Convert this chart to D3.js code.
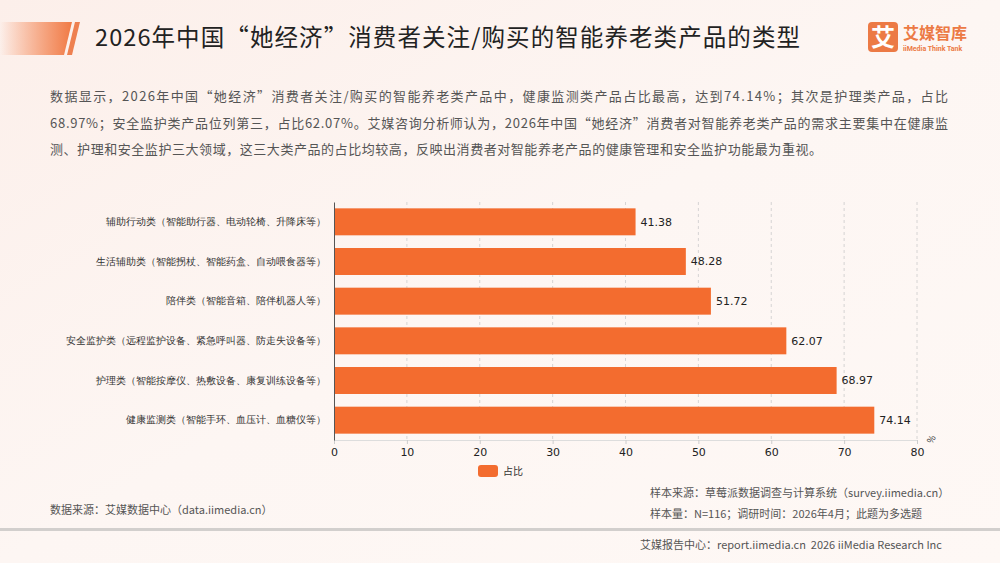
<!DOCTYPE html>
<html>
<head>
<meta charset="utf-8">
<script src="https://cdn.jsdelivr.net/npm/d3@7"></script>
<style>
  body { margin: 0; }
  svg { display: block; font-family: "Noto Sans CJK SC", "Noto Sans", sans-serif; }
</style>
</head>
<body>
<div id="chart"></div>
<script>
const categories = [
  '辅助行动类（智能助行器、电动轮椅、升降床等）',
  '生活辅助类（智能拐杖、智能药盒、自动喂食器等）',
  '陪伴类（智能音箱、陪伴机器人等）',
  '安全监护类（远程监护设备、紧急呼叫器、防走失设备等）',
  '护理类（智能按摩仪、热敷设备、康复训练设备等）',
  '健康监测类（智能手环、血压计、血糖仪等）'
];
const values = [41.38, 48.28, 51.72, 62.07, 68.97, 74.14];
const xTicks = [0, 10, 20, 30, 40, 50, 60, 70, 80];
const seriesName = '占比';

const title = '2026年中国“她经济”消费者关注/购买的智能养老类产品的类型';
const paragraph = [
  '数据显示，2026年中国“她经济”消费者关注/购买的智能养老类产品中，健康监测类产品占比最高，达到74.14%；其次是护理类产品，占比',
  '68.97%；安全监护类产品位列第三，占比62.07%。艾媒咨询分析师认为，2026年中国“她经济”消费者对智能养老类产品的需求主要集中在健康监',
  '测、护理和安全监护三大领域，这三大类产品的占比均较高，反映出消费者对智能养老产品的健康管理和安全监护功能最为重视。'
];
// line lengths
const paragraphWidths = [898, 898, 772];

const width = 1000, height = 563;
const orange = '#F36C2F';
const margin = { top: 202, left: 334, right: 87, bottom: 123 };

const svg = d3.select('#chart').append('svg')
  .attr('width', width).attr('height', height);

// background
const defs = svg.append('defs');
const bg = defs.append('linearGradient').attr('id', 'bg')
  .attr('x1', 0).attr('y1', 0).attr('x2', 1).attr('y2', 1);
bg.append('stop').attr('offset', 0).attr('stop-color', '#FCEFEA');
bg.append('stop').attr('offset', 0.5).attr('stop-color', '#FDF6F3');
bg.append('stop').attr('offset', 1).attr('stop-color', '#FEF8F5');
svg.append('rect').attr('width', width).attr('height', height).attr('fill', 'url(#bg)');

// title tag
const tag = defs.append('linearGradient').attr('id', 'tag');
tag.append('stop').attr('offset', 0).attr('stop-color', '#F36C2F').attr('stop-opacity', 0);
tag.append('stop').attr('offset', 1).attr('stop-color', '#F07A45');
svg.append('path').attr('d', 'M0,22 L72,22 L64,55 L0,55 Z').attr('fill', 'url(#tag)');
svg.append('path').attr('d', 'M75,22 L80,22 L72,55 L67,55 Z').attr('fill', '#EE8050');

svg.append('text').attr('x', 95).attr('y', 46)
  .attr('font-size', 23.5).attr('textLength', 705).attr('lengthAdjust', 'spacing')
  .attr('fill', '#222').text(title);

// logo
const logo = svg.append('g').attr('transform', 'translate(868,22)');
logo.append('rect').attr('width', 30).attr('height', 30).attr('rx', 4).attr('fill', '#EC7A45');
logo.append('text').attr('x', 15).attr('y', 24).attr('text-anchor', 'middle')
  .attr('font-size', 24).attr('font-weight', 700).attr('fill', '#fff').text('艾');
logo.append('text').attr('x', 35).attr('y', 17)
  .attr('font-size', 16).attr('font-weight', 700).attr('fill', '#EC7A45').text('艾媒智库');
logo.append('text').attr('x', 35).attr('y', 29)
  .attr('font-size', 7).attr('font-weight', 700).attr('fill', '#EC7A45')
  .attr('font-family', 'Roboto, sans-serif').text('iiMedia Think Tank');

// paragraph
svg.append('g').selectAll('text').data(paragraph).join('text')
  .attr('x', 50).attr('y', (d, i) => 101 + i * 26.5)
  .attr('font-size', 13).attr('fill', '#555')
  .attr('textLength', (d, i) => paragraphWidths[i]).attr('lengthAdjust', 'spacing')
  .text(d => d);

// scales
const x = d3.scaleLinear().domain([0, 80]).range([margin.left, width - margin.right + 4]);
const y = d3.scaleBand().domain(categories)
  .range([margin.top, height - margin.bottom]).paddingInner(0.32).paddingOuter(0.16);

// grid
svg.append('g').selectAll('line').data(xTicks.slice(1)).join('line')
  .attr('x1', d => x(d)).attr('x2', d => x(d))
  .attr('y1', margin.top).attr('y2', height - margin.bottom)
  .attr('stroke', '#ccc').attr('stroke-width', 0.8).attr('stroke-dasharray', '3,3');

// bars
svg.append('g').selectAll('rect').data(values).join('rect')
  .attr('x', x(0)).attr('y', (d, i) => y(categories[i]))
  .attr('width', d => x(d) - x(0)).attr('height', y.bandwidth())
  .attr('fill', orange);

svg.append('g').selectAll('text').data(values).join('text')
  .attr('x', d => x(d) + 5).attr('y', (d, i) => y(categories[i]) + y.bandwidth() / 2)
  .attr('dy', '0.35em').attr('font-size', 11).attr('fill', '#222')
  .attr('font-family', '"DejaVu Sans", sans-serif')
  .text(d => d.toFixed(2));

// axes
const xAxis = svg.append('g')
  .attr('transform', `translate(0,${height - margin.bottom})`)
  .call(d3.axisBottom(x).tickValues(xTicks).tickSize(4).tickPadding(4));
xAxis.select('.domain').attr('stroke', '#ddd');
xAxis.selectAll('.tick line').attr('stroke', '#ccc');
xAxis.selectAll('.tick text').attr('font-size', 11).attr('fill', '#222')
  .attr('font-family', '"DejaVu Sans", sans-serif');

const yAxis = svg.append('g')
  .attr('transform', `translate(${margin.left},0)`)
  .call(d3.axisLeft(y).tickSize(0).tickPadding(8));
yAxis.select('.domain').attr('stroke', '#555');
yAxis.selectAll('.tick text').attr('font-size', 10).attr('fill', '#333');

svg.append('text')
  .attr('transform', `translate(934,441) rotate(-60)`)
  .attr('text-anchor', 'middle').attr('font-size', 9).attr('fill', '#333')
  .text('%');

// legend
const legend = svg.append('g').attr('transform', 'translate(478,465)');
legend.append('rect').attr('width', 20).attr('height', 12).attr('rx', 3).attr('fill', orange);
legend.append('text').attr('x', 25).attr('y', 6).attr('dy', '0.35em')
  .attr('font-size', 10).attr('fill', '#333').text(seriesName);

// footer
const foot = svg.append('g').attr('font-size', 11).attr('fill', '#555');
foot.append('text').attr('x', 50).attr('y', 514).text('数据来源：艾媒数据中心（data.iimedia.cn）');
foot.append('text').attr('x', 650).attr('y', 497).text('样本来源：草莓派数据调查与计算系统（survey.iimedia.cn）');
foot.append('text').attr('x', 650).attr('y', 518).text('样本量：N=116；调研时间：2026年4月；此题为多选题');
svg.append('rect').attr('x', 0).attr('y', 528).attr('width', width).attr('height', 3).attr('fill', '#D2CFCD');
foot.append('text').attr('x', 640).attr('y', 549).attr('xml:space', 'preserve')
  .text('艾媒报告中心：report.iimedia.cn  2026 iiMedia Research Inc');
</script>
</body>
</html>
